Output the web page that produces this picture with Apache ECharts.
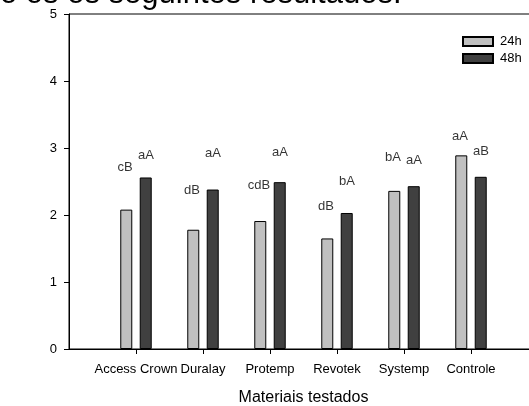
<!DOCTYPE html>
<html>
<head>
<meta charset="utf-8">
<script src="https://cdn.jsdelivr.net/npm/echarts@6/dist/echarts.min.js"></script>
<style>
  html, body { margin: 0; padding: 0; background: #fff; }
  #chart { width: 529px; height: 406px; }
</style>
</head>
<body>
<div id="chart"></div>
<script>
// Materials tested
var materials = ['Access Crown', 'Duralay', 'Protemp', 'Revotek', 'Systemp', 'Controle'];
// Mean values after 24h and 48h
var values24h = [2.08, 1.78, 1.91, 1.65, 2.36, 2.89];
var values48h = [2.56, 2.38, 2.49, 2.03, 2.43, 2.57];
// Significance letters for each bar
var letters24h = ['cB', 'dB', 'cdB', 'dB', 'bA', 'aA'];
var letters48h = ['aA', 'aA', 'aA', 'bA', 'aA', 'aB'];
// Height (axis units) where each letter group sits
var letterY24h = [2.71, 2.37, 2.44, 2.13, 2.855, 3.17];
var letterY48h = [2.885, 2.92, 2.94, 2.50, 2.81, 2.955];
// Value-axis ticks
var yTicks = [0, 1, 2, 3, 4, 5];

var FONT = '"Liberation Sans", Arial, sans-serif';

// Category slots: an empty slot on each side keeps the frame wider than the bars
var slots = [''].concat(materials, ['']);
function isMaterial(i) { return i >= 1 && i <= materials.length; }

function letterPoints(ys, letters) {
  return ys.map(function (y, i) { return { value: [i + 1, y], letter: letters[i] }; });
}

var chart = echarts.init(document.getElementById('chart'), null, { renderer: 'canvas' });

chart.setOption({
  animation: false,
  backgroundColor: '#ffffff',
  textStyle: { fontFamily: FONT },
  grid: {
    left: 69, right: -9, top: 14, bottom: 57,
    outerBoundsMode: 'none',
    containLabel: false,
    show: true, borderColor: '#000', borderWidth: 1, backgroundColor: 'transparent'
  },
  legend: {
    orient: 'vertical',
    left: 462, top: 35, padding: 0,
    itemWidth: 30, itemHeight: 9, itemGap: 4,
    icon: 'rect',
    data: ['24h', '48h'],
    textStyle: { fontFamily: FONT, fontSize: 13, color: '#000', padding: [0, 0, 0, 2] }
  },
  xAxis: {
    type: 'category',
    data: slots,
    boundaryGap: false,
    axisLine: { lineStyle: { color: '#000', width: 1 } },
    axisTick: {
      interval: function (i) { return isMaterial(i); },
      length: 5, lineStyle: { color: '#000' }
    },
    axisLabel: {
      interval: function (i) { return isMaterial(i); },
      color: '#000', fontSize: 13, fontFamily: FONT, margin: 14
    },
    splitLine: { show: false },
    name: 'Materiais testados',
    nameLocation: 'middle',
    nameGap: 41,
    nameTextStyle: { color: '#000', fontSize: 16, fontFamily: FONT }
  },
  yAxis: {
    type: 'value',
    min: yTicks[0], max: yTicks[yTicks.length - 1], interval: 1,
    axisLine: { show: true, lineStyle: { color: '#000', width: 1 } },
    axisTick: { show: true, length: 5, lineStyle: { color: '#000' } },
    axisLabel: { color: '#000', fontSize: 13, fontFamily: FONT, margin: 12 },
    splitLine: { show: false }
  },
  series: [
    {
      name: '24h', type: 'bar',
      data: values24h.map(function (v, i) { return [i + 1, v]; }),
      barWidth: 12, barGap: '62%',
      itemStyle: { color: '#c0c0c0', borderColor: '#000', borderWidth: 1 }
    },
    {
      name: '48h', type: 'bar',
      data: values48h.map(function (v, i) { return [i + 1, v]; }),
      barWidth: 12, barGap: '62%',
      itemStyle: { color: '#404040', borderColor: '#000', borderWidth: 1 }
    },
    {
      type: 'scatter', symbolSize: 0, silent: true,
      data: letterPoints(letterY24h, letters24h),
      label: {
        show: true, position: 'inside', offset: [-11, 0],
        formatter: function (p) { return p.data.letter; },
        color: '#000', fontSize: 13, fontFamily: FONT
      }
    },
    {
      type: 'scatter', symbolSize: 0, silent: true,
      data: letterPoints(letterY48h, letters48h),
      label: {
        show: true, position: 'inside', offset: [10, 0],
        formatter: function (p) { return p.data.letter; },
        color: '#000', fontSize: 13, fontFamily: FONT
      }
    }
  ],
  graphic: [
    {
      type: 'text',
      style: {
        x: 0, y: 10,
        text: 'o os os seguintes resultados:',
        font: '31px ' + FONT,
        fill: '#000',
        verticalAlign: 'bottom'
      }
    }
  ]
});
</script>
</body>
</html>
